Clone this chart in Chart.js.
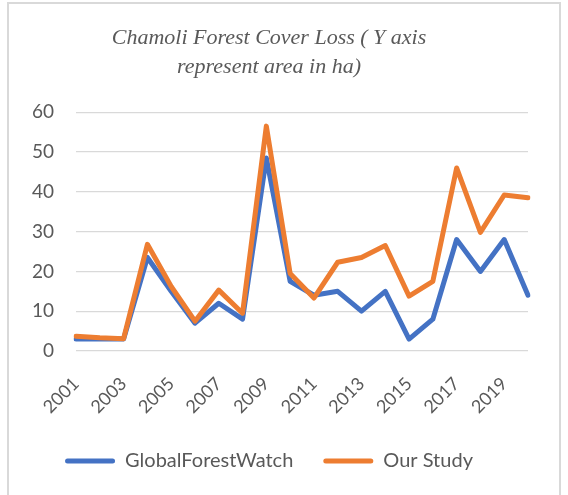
<!DOCTYPE html>
<html>
<head>
<meta charset="utf-8">
<script src="https://cdn.jsdelivr.net/npm/chart.js@4"></script>
<style>
  html, body { margin: 0; padding: 0; background: #fff; }
  #wrap { position: relative; width: 568px; height: 495px; overflow: hidden; }
  #frame { position: absolute; left: 7px; top: 2px; width: 554px; height: 520px; border: 2px solid #d9d9d9; box-sizing: border-box; }
  canvas { position: absolute; left: 0; top: 0; }
</style>
</head>
<body>
<div id="wrap">
  <div id="frame"></div>
  <canvas id="lossChart" width="568" height="495"></canvas>
</div>
<script>
const years = ["2001", "2002", "2003", "2004", "2005", "2006", "2007", "2008", "2009", "2010",
               "2011", "2012", "2013", "2014", "2015", "2016", "2017", "2018", "2019", "2020"];
const globalForestWatch = [3, 3, 3, 23.5, 15, 7, 12, 8, 48.5, 17.5, 14, 15, 10, 15, 3, 8, 28, 20, 28, 14];
const ourStudy = [3.7, 3.3, 3.1, 26.8, 16.2, 7.5, 15.3, 9.5, 56.5, 19.5, 13.3, 22.3, 23.5, 26.5, 13.8, 17.5, 46, 29.8, 39.2, 38.5];
const yTicks = [0, 10, 20, 30, 40, 50, 60];

const ctx = document.getElementById("lossChart").getContext("2d");
const lossChart = new Chart(ctx, {
    type: "line",
    data: {
        labels: years,
        datasets: [
            {
                label: "GlobalForestWatch",
                data: globalForestWatch,
                borderColor: "#4472C4",
                backgroundColor: "#4472C4",
                order: 1
            },
            {
                label: "Our Study",
                data: ourStudy,
                borderColor: "#ED7D31",
                backgroundColor: "#ED7D31",
                order: 0
            }
        ]
    },
    options: {
        responsive: false,
        animation: false,
        layout: { padding: { left: 10, right: 40, top: 0, bottom: 14 } },
        elements: {
            line: { borderWidth: 5, tension: 0, borderCapStyle: "round", borderJoinStyle: "round" },
            point: { radius: 0, hoverRadius: 0 }
        },
        plugins: {
            tooltip: { enabled: false },
            title: {
                display: true,
                text: ["Chamoli Forest Cover Loss ( Y axis", "represent area in ha)"],
                color: "#595959",
                font: { family: "'Liberation Serif', 'DejaVu Serif', serif", size: 22, style: "italic", weight: "normal", lineHeight: 1.3 },
                padding: { top: 24, bottom: 31 }
            },
            legend: {
                position: "bottom",
                labels: {
                    color: "#595959",
                    font: { family: "Lato, 'Noto Sans', sans-serif", size: 20 },
                    boxWidth: 50,
                    boxHeight: 5,
                    useBorderRadius: true,
                    borderRadius: 2.5,
                    padding: 30,
                    sort: (a, b) => a.datasetIndex - b.datasetIndex,
                    generateLabels: chart =>
                        Chart.defaults.plugins.legend.labels.generateLabels(chart).map(l => ({ ...l, lineWidth: 0 }))
                }
            }
        },
        scales: {
            x: {
                grid: { display: false },
                border: { display: false },
                ticks: {
                    color: "#595959",
                    font: { family: "Lato, 'Noto Sans', sans-serif", size: 18 },
                    autoSkip: false,
                    maxRotation: 45,
                    minRotation: 45,
                    padding: 14,
                    callback: function(value, index) {
                        return index % 2 === 0 ? this.getLabelForValue(value) : "";
                    }
                },
                afterFit: scale => { scale.height = 70; }
            },
            y: {
                min: 0,
                max: 60,
                grid: { color: "#d9d9d9", lineWidth: 1.3, drawTicks: false },
                border: { display: false },
                afterBuildTicks: scale => { scale.ticks = yTicks.map(v => ({ value: v })); },
                ticks: {
                    color: "#595959",
                    font: { family: "Lato, 'Noto Sans', sans-serif", size: 19 },
                    padding: 22
                }
            }
        }
    }
});
</script>
</body>
</html>
